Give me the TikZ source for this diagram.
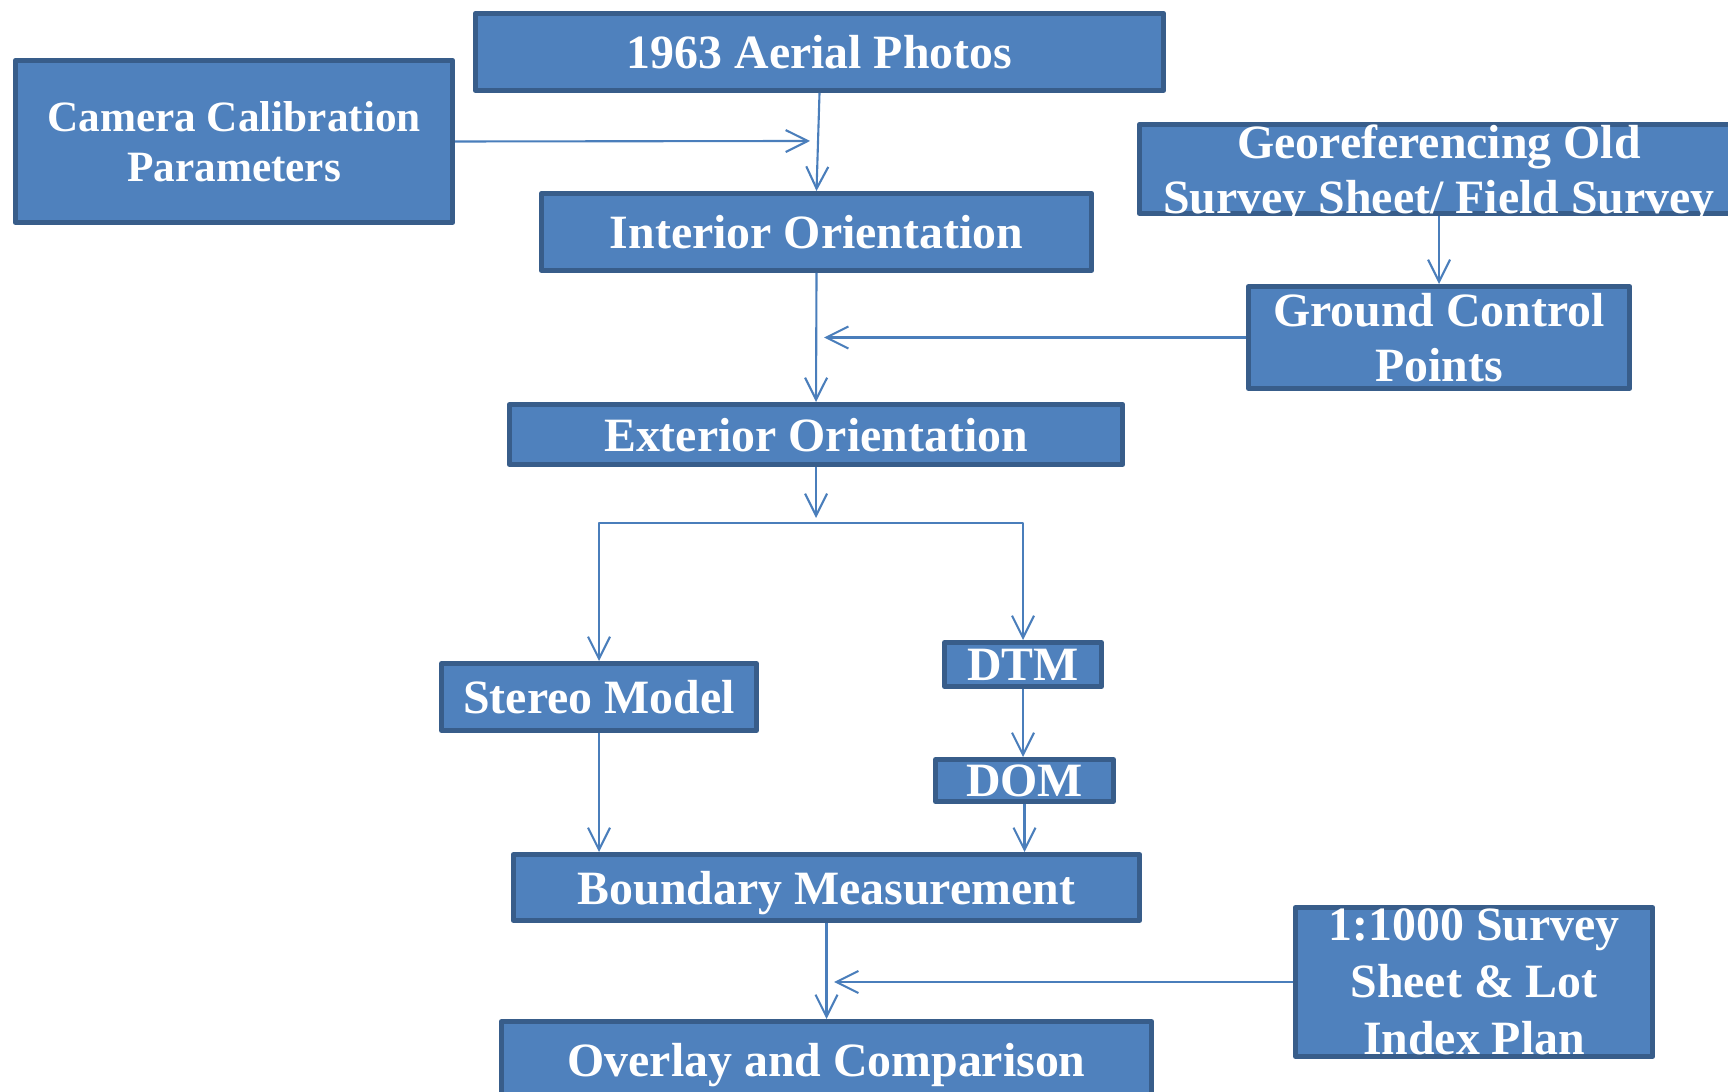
\documentclass[tikz,border=0pt]{standalone}
\usepackage{fontspec}
\setmainfont{Liberation Serif}
\usetikzlibrary{arrows.meta}
\definecolor{boxfill}{HTML}{4F81BD}
\definecolor{boxline}{HTML}{385D8A}
\definecolor{arrline}{HTML}{4A7EBB}
\begin{document}
\begin{tikzpicture}[x=0.01cm,y=-0.01cm,>={Straight Barb[length=2.2mm,width=2.2mm]},line join=round,
	font=\bfseries\fontsize{13.6}{15.6}\selectfont,
	blk/.style={draw=boxline,fill=boxfill,line width=1.4pt,text=white,inner sep=0pt,align=center,text depth=0pt},
	arr/.style={->,draw=arrline,line width=0.6pt}]
	\useasboundingbox (0,0) rectangle (1728,1092);
	\node[blk,minimum width=6.88cm,minimum height=0.77cm] (aerial) at (819.5,52) {1963 Aerial Photos};
	\node[blk,minimum width=4.37cm,minimum height=1.62cm,font=\bfseries\fontsize{12.3}{14.4}\selectfont] (camera) at (234,141.5) {Camera Calibration\\Parameters};
	\node[blk,minimum width=5.50cm,minimum height=0.77cm] (interior) at (816.5,232) {Interior Orientation};
	\node[blk,minimum width=5.99cm,minimum height=0.89cm] (georef) at (1439,169) {Georeferencing Old\\Survey Sheet/ Field Survey};
	\node[blk,minimum width=3.81cm,minimum height=1.02cm] (gcp) at (1439,337.5) {Ground Control\\Points};
	\node[blk,minimum width=6.13cm,minimum height=0.60cm] (exterior) at (816,434.5) {Exterior Orientation};
	\node[blk,minimum width=3.15cm,minimum height=0.67cm] (stereo) at (599,697) {Stereo Model};
	\node[blk,minimum width=1.57cm,minimum height=0.44cm] (dtm) at (1023,664.5) {DTM};
	\node[blk,minimum width=1.78cm,minimum height=0.42cm] (dom) at (1024.5,780.5) {DOM};
	\node[blk,minimum width=6.26cm,minimum height=0.66cm] (boundary) at (826.5,887.5) {Boundary Measurement};
	\node[blk,minimum width=6.50cm,minimum height=0.77cm] (overlay) at (826.5,1060) {Overlay and Comparison};
	\node[blk,minimum width=3.57cm,minimum height=1.49cm,font=\bfseries\fontsize{13.6}{16.2}\selectfont] (sheet) at (1474,982) {1:1000 Survey\\Sheet \& Lot\\Index Plan};
	\coordinate (camtip) at (810,141);
	\coordinate (gcptip) at (824,337.5);
	\coordinate (fork) at (816,523);
	\coordinate (sheettip) at (834,982);
	\draw[arr] (aerial.south) -- (interior.north);
	\draw[arr] (camera.east) -- (camtip);
	\draw[arr] (interior.south) -- (exterior.north);
	\draw[arr] (georef.south) -- (gcp.north);
	\draw[arr] (gcp.west) -- (gcptip);
	\draw[arr,shorten >=0.05cm] (exterior.south) -- (fork);
	\draw[arr] (fork) -| (stereo.north);
	\draw[arr] (fork) -| (dtm.north);
	\draw[arr] (dtm.south) -- (dtm.south |- dom.north);
	\draw[arr] (stereo.south) -- (stereo.south |- boundary.north);
	\draw[arr] (dom.south) -- (dom.south |- boundary.north);
	\draw[arr] (boundary.south) -- (overlay.north);
	\draw[arr] (sheet.west) -- (sheettip);
\end{tikzpicture}
\end{document}
